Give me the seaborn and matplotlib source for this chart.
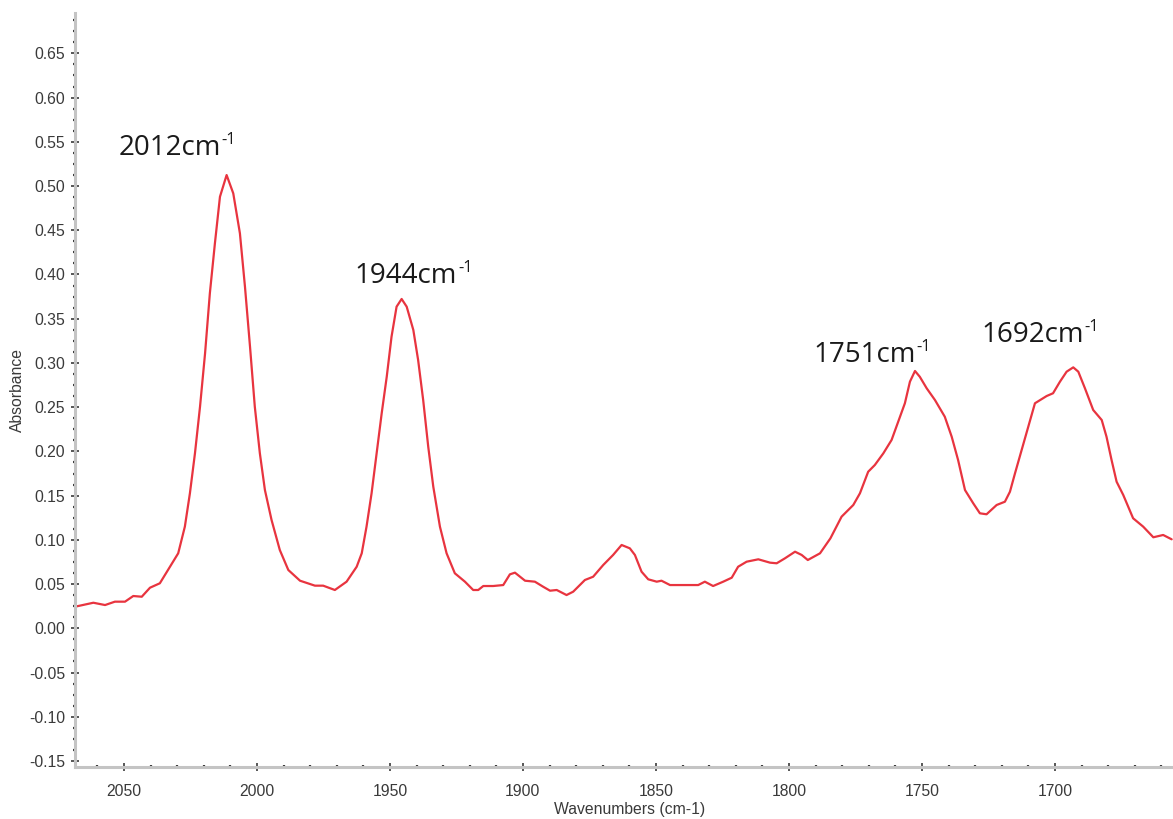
import numpy as np
import pandas as pd
import matplotlib
matplotlib.use("Agg")
import matplotlib.pyplot as plt
from matplotlib.ticker import MultipleLocator, FormatStrFormatter
import seaborn as sns

# IR absorbance spectrum (wavenumber in cm-1, absorbance)
wavenumber = [
    2068.4, 2061.5, 2057.1, 2053.4, 2049.6, 2046.5, 2043.3, 2040.2, 2036.5, 2032.7,
    2029.6, 2027.1, 2025.2, 2023.3, 2021.4, 2019.5, 2017.7, 2015.8, 2013.9, 2011.4,
    2008.9, 2006.4, 2004.5, 2002.6, 2000.8, 1998.9, 1997.0, 1994.5, 1991.4, 1988.2,
    1983.8, 1978.2, 1975.1, 1970.7, 1966.3, 1962.5, 1960.6, 1958.8, 1956.9, 1955.0,
    1953.1, 1951.2, 1949.4, 1947.5, 1945.6, 1943.7, 1941.2, 1939.4, 1937.5, 1935.6,
    1933.7, 1931.2, 1928.7, 1925.6, 1921.8, 1918.7, 1916.8, 1914.9, 1911.2, 1907.4,
    1904.9, 1903.0, 1899.2, 1895.5, 1892.4, 1889.8, 1887.3, 1883.6, 1881.1, 1876.7,
    1873.6, 1869.8, 1866.1, 1862.9, 1859.8, 1857.9, 1855.4, 1852.9, 1849.7, 1847.9,
    1844.7, 1839.7, 1834.1, 1831.6, 1828.5, 1824.7, 1821.5, 1819.1, 1815.9, 1811.5,
    1807.1, 1804.6, 1801.5, 1797.7, 1795.2, 1792.9, 1788.3, 1784.4, 1780.2, 1775.8,
    1773.3, 1770.2, 1767.7, 1764.5, 1761.4, 1758.9, 1756.4, 1754.5, 1752.6, 1750.8,
    1748.2, 1745.1, 1741.4, 1738.8, 1736.4, 1733.8, 1730.7, 1728.2, 1725.7, 1721.9,
    1718.8, 1716.9, 1715.0, 1712.5, 1710.0, 1707.5, 1703.1, 1700.7, 1698.1, 1695.6,
    1693.1, 1691.2, 1688.7, 1685.6, 1682.4, 1680.6, 1678.7, 1676.8, 1674.3, 1670.6,
    1666.8, 1663.0, 1659.3, 1656.1,
]
absorbance = [
    0.0244, 0.0289, 0.0263, 0.0301, 0.0301, 0.0365, 0.0357, 0.0459, 0.0509, 0.0696,
    0.0848, 0.1149, 0.1526, 0.1978, 0.2505, 0.3109, 0.3787, 0.4352, 0.4879, 0.5124,
    0.4917, 0.4465, 0.3862, 0.3183, 0.2505, 0.1978, 0.1563, 0.1224, 0.0885, 0.0659,
    0.0538, 0.0482, 0.0482, 0.0433, 0.0527, 0.0696, 0.0848, 0.1149, 0.1526, 0.1978,
    0.2430, 0.2844, 0.3296, 0.3636, 0.3723, 0.3636, 0.3372, 0.3033, 0.2581, 0.2053,
    0.1601, 0.1149, 0.0848, 0.0622, 0.0527, 0.0433, 0.0433, 0.0478, 0.0478, 0.0489,
    0.0610, 0.0629, 0.0538, 0.0527, 0.0470, 0.0425, 0.0433, 0.0376, 0.0414, 0.0546,
    0.0583, 0.0716, 0.0829, 0.0942, 0.0904, 0.0829, 0.0640, 0.0554, 0.0527, 0.0538,
    0.0489, 0.0489, 0.0489, 0.0527, 0.0478, 0.0527, 0.0572, 0.0696, 0.0753, 0.0780,
    0.0742, 0.0735, 0.0791, 0.0866, 0.0829, 0.0772, 0.0848, 0.1017, 0.1262, 0.1394,
    0.1526, 0.1770, 0.1846, 0.1978, 0.2129, 0.2336, 0.2544, 0.2788, 0.2909, 0.2844,
    0.2713, 0.2581, 0.2392, 0.2166, 0.1903, 0.1563, 0.1413, 0.1300, 0.1289, 0.1394,
    0.1431, 0.1544, 0.1752, 0.2016, 0.2279, 0.2544, 0.2626, 0.2657, 0.2788, 0.2901,
    0.2950, 0.2901, 0.2713, 0.2468, 0.2355, 0.2166, 0.1903, 0.1657, 0.1507, 0.1244,
    0.1149, 0.1029, 0.1055, 0.1006,
]

# Peak labels: text and anchor (wavenumber, absorbance of the text baseline)
peak_labels = ["2012", "1944", "1751", "1692"]
label_x = [2052.1, 1963.2, 1790.9, 1727.8]
label_y = [0.535, 0.390, 0.3014, 0.324]

sns.set_style("white")
plt.rcParams["font.family"] = ["Liberation Sans", "DejaVu Sans"]

fig = plt.figure(figsize=(11.73, 8.19), dpi=100)
ax = fig.add_axes([75 / 1173, 52 / 819, 1 - 75 / 1173, 754 / 819])

df = pd.DataFrame({"Wavenumbers (cm-1)": wavenumber, "Absorbance": absorbance})
sns.lineplot(data=df, x="Wavenumbers (cm-1)", y="Absorbance", ax=ax,
             sort=False, estimator=None, color="#e8343f", linewidth=1.6)

ax.set_xlim(2068.4, 1655.6)
ax.set_ylim(-0.1568, 0.6956)

ax.xaxis.set_major_locator(MultipleLocator(50))
ax.xaxis.set_minor_locator(MultipleLocator(10))
ax.yaxis.set_major_locator(MultipleLocator(0.05))
ax.yaxis.set_minor_locator(MultipleLocator(0.0125))
ax.yaxis.set_major_formatter(FormatStrFormatter("%.2f"))

for side in ["top", "right"]:
    ax.spines[side].set_visible(False)
for side in ["left", "bottom"]:
    ax.spines[side].set_color("#c4c4c4")
    ax.spines[side].set_linewidth(2.2)

tick_color = "#3a3a3a"
ax.tick_params(axis="both", which="major", direction="inout", length=6,
               width=1.2, color=tick_color, labelcolor=tick_color, labelsize=11.3)
ax.tick_params(axis="y", which="major", pad=4)
ax.tick_params(axis="x", which="major", pad=9)
ax.tick_params(axis="both", which="minor", direction="inout", length=2.2,
               width=1.6, color=tick_color)
ax.tick_params(bottom=True, left=True, which="both")

ax.set_xlabel("Wavenumbers (cm-1)", fontsize=11.3, color=tick_color)
ax.set_ylabel("Absorbance", fontsize=11.3, color=tick_color)
ax.xaxis.set_label_coords((630 - 75) / (1173 - 75), -(802 - 767) / 754)
ax.yaxis.set_label_coords(-(75 - 25) / (1173 - 75), 0.5)

for txt, lx, ly in zip(peak_labels, label_x, label_y):
    main = ax.text(lx, ly, txt + "cm", fontsize=20, color="#1a1a1a",
                   ha="left", va="baseline", family=["Open Sans", "DejaVu Sans"])
    ax.annotate("-1", xy=(1, ly), xycoords=(main, "data"),
                xytext=(0.5, 8), textcoords="offset points",
                fontsize=12, color="#1a1a1a", ha="left", va="baseline",
                family=["Open Sans", "DejaVu Sans"])

fig.savefig("out.png", dpi=100)
